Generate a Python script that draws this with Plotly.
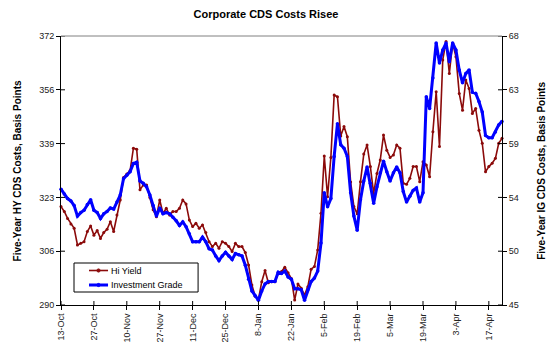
import plotly.graph_objects as go

tick_labels = ["13-Oct", "27-Oct", "10-Nov", "27-Nov", "11-Dec", "25-Dec", "8-Jan",
               "22-Jan", "5-Feb", "19-Feb", "5-Mar", "19-Mar", "3-Apr", "17-Apr"]

hy_tick_labels = ["290", "306", "323", "339", "356", "372"]
ig_tick_labels = ["45", "50", "54", "59", "63", "68"]

hi_yield = [
    320.0, 318.5, 316.4, 314.7, 313.4, 308.3, 308.8, 309.3, 312.4, 314.1,
    311.3, 312.7, 310.3, 312.1, 313.1, 315.4, 312.4, 317.4, 322.0, 328.9,
    329.9, 331.0, 337.8, 337.5, 325.1, 326.6, 326.6, 322.8, 319.0, 316.9,
    322.0, 317.9, 319.5, 317.4, 318.5, 318.5, 319.5, 322.0, 320.8, 315.9,
    313.9, 314.9, 313.4, 314.4, 312.1, 309.3, 307.8, 308.8, 307.3, 309.3,
    308.8, 307.8, 306.3, 308.8, 307.8, 307.8, 306.0, 302.2, 296.1, 292.7,
    291.7, 297.1, 300.5, 296.8, 297.1, 297.1, 299.6, 300.2, 301.5, 299.8,
    298.1, 291.5, 296.4, 295.1, 293.0, 295.6, 300.9, 301.7, 306.8, 318.0,
    335.4, 323.0, 335.0, 354.0, 353.5, 341.5, 344.4, 341.3, 327.5, 320.0,
    317.8, 327.6, 336.0, 338.8, 332.2, 324.0, 330.1, 334.2, 341.8, 337.2,
    335.0, 335.7, 338.8, 337.8, 327.1, 326.8, 328.6, 332.2, 332.2, 327.6,
    333.7, 332.7, 329.1, 342.8, 355.0, 338.3, 364.7, 370.3, 360.6, 369.8,
    365.7, 354.5, 349.4, 358.6, 356.0, 348.4, 349.9, 343.3, 339.3, 330.6,
    332.2, 333.2, 334.7, 339.3, 340.8,
]

inv_grade = [
    54.9, 54.5, 54.1, 53.9, 53.5, 52.6, 52.9, 53.1, 53.6, 54.0,
    53.1, 52.9, 52.4, 52.8, 53.0, 53.3, 53.2, 53.8, 54.4, 55.8,
    56.1, 56.4, 57.1, 57.2, 55.6, 55.4, 55.1, 54.4, 53.5, 52.6,
    53.3, 52.8, 52.9, 52.8, 52.5, 52.2, 51.8, 52.1, 51.7, 51.1,
    50.4, 50.4, 50.4, 50.8, 50.4, 49.8, 49.7, 49.2, 48.8, 49.2,
    49.5, 49.2, 48.9, 49.4, 49.3, 49.2, 48.4, 47.2, 46.2, 45.8,
    45.4, 46.2, 46.8, 47.0, 47.0, 47.0, 47.8, 47.7, 47.9, 47.4,
    47.2, 46.4, 46.4, 46.3, 45.4, 46.3, 47.0, 47.3, 47.9, 50.3,
    54.6, 53.4, 54.1, 57.7, 60.5, 58.7, 58.4, 57.7, 54.6, 52.6,
    51.4, 54.0, 55.6, 56.8, 55.4, 53.7, 55.1, 56.3, 57.3, 56.4,
    55.6, 56.3, 56.8, 56.3, 54.7, 53.8, 54.3, 54.8, 55.0, 53.8,
    54.6, 62.8, 61.8, 64.4, 67.4, 65.7, 66.8, 67.4, 65.8, 67.4,
    66.8, 65.1, 64.0, 64.8, 65.1, 63.2, 63.1, 62.4, 61.5, 59.5,
    59.3, 59.3, 59.8, 60.4, 60.7,
]

series_names = ["Hi Yield", "Investment Grade"]

n = len(hi_yield)
idx = list(range(n))
xtickvals = list(range(0, 10 * len(tick_labels), 10))

HY_MIN, HY_MAX = 290, 372
IG_MIN, IG_MAX = 45, 68
k = len(hy_tick_labels) - 1
hy_tickvals = [HY_MIN + (HY_MAX - HY_MIN) * i / k for i in range(k + 1)]
ig_tickvals = [IG_MIN + (IG_MAX - IG_MIN) * i / k for i in range(k + 1)]

FONT = "Liberation Sans, Arial, sans-serif"
RED = "#8B0A0A"
BLUE = "#0000FF"

W, H = 551, 343
PL, PR, PT, PB = 61, 501.7, 36, 305
PW, PH = PR - PL, PB - PT

fig = go.Figure()
fig.add_trace(go.Scatter(
    x=idx, y=hi_yield, name=series_names[0], mode="lines+markers",
    line=dict(color=RED, width=1.6), marker=dict(size=3, color=RED),
    yaxis="y", cliponaxis=False, showlegend=False, hoverinfo="skip",
))
fig.add_trace(go.Scatter(
    x=idx, y=inv_grade, name=series_names[1], mode="lines+markers",
    line=dict(color=BLUE, width=3), marker=dict(size=3.5, color=BLUE),
    yaxis="y2", cliponaxis=False, showlegend=False, hoverinfo="skip",
))

axis_common = dict(showgrid=False, zeroline=False, showline=True, linecolor="black",
                   linewidth=1, ticks="outside", ticklen=4, tickcolor="black",
                   tickfont=dict(family=FONT, size=9, color="#222"))

fig.update_layout(
    width=W, height=H,
    margin=dict(l=PL, r=W - PR, t=PT, b=H - PB, autoexpand=False),
    paper_bgcolor="white", plot_bgcolor="white",
    font=dict(family=FONT, color="black"),
    title=dict(text="<b>Corporate CDS Costs Risee</b>", x=266 / W, xanchor="center",
               y=1 - 14 / H, yanchor="middle", xref="container", yref="container",
               font=dict(family=FONT, size=11, color="black")),
    xaxis=dict(range=[0, n - 1], tickmode="array", tickvals=xtickvals,
               ticktext=tick_labels, tickangle=-90, automargin=False, **axis_common),
    yaxis=dict(range=[HY_MIN, HY_MAX], tickmode="array", tickvals=hy_tickvals,
               ticktext=hy_tick_labels, automargin=False, **axis_common),
    yaxis2=dict(range=[IG_MIN, IG_MAX], tickmode="array", tickvals=ig_tickvals,
                ticktext=ig_tick_labels, overlaying="y", side="right",
                automargin=False, **axis_common),
    showlegend=False,
)

shapes = []
# inner halves of crossing ticks
for v in xtickvals:
    shapes.append(dict(type="line", xref="x", yref="paper", ysizemode="pixel", yanchor=0,
                       x0=v, x1=v, y0=0, y1=4, line=dict(color="black", width=1)))
for v in hy_tickvals:
    shapes.append(dict(type="line", xref="paper", yref="y", xsizemode="pixel", xanchor=0,
                       x0=0, x1=4, y0=v, y1=v, line=dict(color="black", width=1)))
for v in ig_tickvals:
    shapes.append(dict(type="line", xref="paper", yref="y2", xsizemode="pixel", xanchor=1,
                       x0=-4, x1=0, y0=v, y1=v, line=dict(color="black", width=1)))
# top border
shapes.append(dict(type="line", xref="paper", yref="paper", x0=0, x1=1, y0=1, y1=1,
                   line=dict(color="#808080", width=1)))


def px_x(px):  # page pixel -> paper x
    return (px - PL) / PW


def px_y(py):  # page pixel -> paper y
    return (PB - py) / PH


# legend box
shapes.append(dict(type="rect", xref="paper", yref="paper",
                   x0=px_x(74), x1=px_x(198), y0=px_y(292), y1=px_y(263),
                   line=dict(color="black", width=1), fillcolor="white", layer="above"))
legend_rows = [(series_names[0], RED, 1.6, 270.5), (series_names[1], BLUE, 3, 285)]
for name, col, lw, py in legend_rows:
    shapes.append(dict(type="line", xref="paper", yref="paper",
                       x0=px_x(89), x1=px_x(108), y0=px_y(py), y1=px_y(py),
                       line=dict(color=col, width=lw), layer="above"))
    shapes.append(dict(type="circle", xref="paper", yref="paper",
                       xsizemode="pixel", ysizemode="pixel",
                       xanchor=px_x(98.5), yanchor=px_y(py),
                       x0=-1.6, x1=1.6, y0=-1.6, y1=1.6,
                       line=dict(color=col, width=1), fillcolor=col, layer="above"))
    fig.add_annotation(text=name, xref="paper", yref="paper", x=px_x(108.5), y=px_y(py),
                       xanchor="left", yanchor="middle", showarrow=False,
                       font=dict(family=FONT, size=9, color="black"))
fig.update_layout(shapes=shapes)

fig.add_annotation(text="<b>Five-Year HY CDS Costs, Basis Points</b>", textangle=-90,
                   xref="paper", yref="paper", x=px_x(18), y=0.5,
                   xanchor="center", yanchor="middle", showarrow=False,
                   font=dict(family=FONT, size=10, color="black"))
fig.add_annotation(text="<b>Five-Year IG CDS Costs, Basis Points</b>", textangle=-90,
                   xref="paper", yref="paper", x=px_x(541), y=0.5,
                   xanchor="center", yanchor="middle", showarrow=False,
                   font=dict(family=FONT, size=10, color="black"))

fig.write_html("out.html",
               config={"displayModeBar": False, "staticPlot": True},
               post_script="document.body.style.margin='0';document.body.style.overflow='hidden';")
